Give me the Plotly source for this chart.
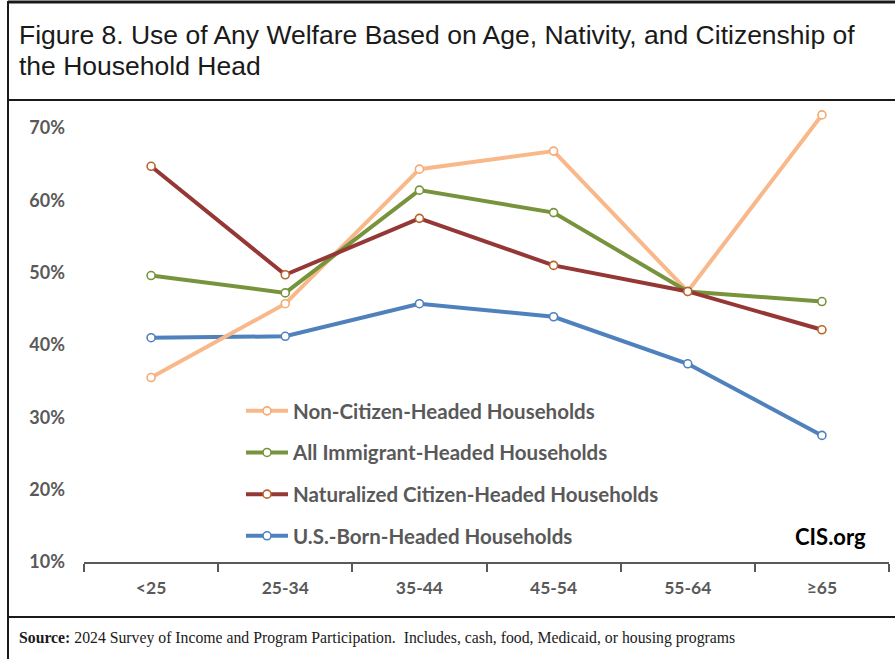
import plotly.graph_objects as go

# Age of household head
age_groups = ["<25", "25-34", "35-44", "45-54", "55-64", "≥65"]

# Share of households using any welfare (%)
non_citizen = [35.5, 45.7, 64.3, 66.8, 47.4, 71.8]
all_immigrant = [49.6, 47.2, 61.4, 58.3, 47.4, 46.0]
naturalized = [64.7, 49.7, 57.5, 51.0, 47.4, 42.1]
us_born = [41.0, 41.2, 45.7, 43.9, 37.4, 27.5]

y_ticks = [10, 20, 30, 40, 50, 60, 70]

title_lines = [
    "Figure 8. Use of Any Welfare Based on Age, Nativity, and Citizenship of",
    "the Household Head",
]

W, H = 895, 659
# plot area in pixels
L, R, T, B = 84, 889, 99, 562

def px(x):
    return (x - L) / (R - L)

def py(y):
    return (B - y) / (B - T)

GRAY = "#595959"
FONT = "Lato, Carlito, Calibri, sans-serif"

series = [
    # name, values, line colour, marker edge, legend rank
    ("U.S.-Born-Headed Households", us_born, "#4F81BD", "#4F81BD", 4),
    ("Non-Citizen-Headed Households", non_citizen, "#F9B88A", "#F7A96F", 1),
    ("All Immigrant-Headed Households", all_immigrant, "#77933C", "#77933C", 2),
    ("Naturalized Citizen-Headed Households", naturalized, "#953735", "#B8642A", 3),
]

fig = go.Figure()
for name, vals, col, edge, rank in series:
    fig.add_trace(go.Scatter(
        x=age_groups, y=vals, name=name, mode="lines+markers",
        line=dict(color=col, width=4),
        marker=dict(size=8, color="white", line=dict(color=edge, width=1.6)),
        legendrank=rank, legendgroup=name,
    ))

fig.update_layout(
    width=W, height=H,
    margin=dict(l=L, r=W - R, t=T, b=H - B, pad=0),
    paper_bgcolor="white", plot_bgcolor="white",
    font=dict(family=FONT, color=GRAY),
    showlegend=True,
    legend=dict(
        x=px(241), y=py(391), xanchor="left", yanchor="top",
        bgcolor="rgba(0,0,0,0)",
        font=dict(family=FONT, size=20.5, color=GRAY, weight="bold"),
        itemwidth=42, tracegroupgap=12, traceorder="grouped",
    ),
)

fig.update_xaxes(
    type="category", range=[-0.5, 5.5],
    showline=True, linecolor=GRAY, linewidth=1.5,
    ticks="outside", tickson="boundaries", ticklen=8, tickcolor=GRAY, tickwidth=1.5,
    showgrid=False, zeroline=False,
    tickfont=dict(family=FONT, size=17.5, color=GRAY, weight="bold"),
    ticklabelstandoff=9,
)
fig.update_yaxes(
    range=[10, 74], tickvals=y_ticks, ticktext=[f"{v}%" for v in y_ticks],
    showline=False, showgrid=False, zeroline=False, ticks="",
    tickfont=dict(family=FONT, size=18, color=GRAY, weight="bold"),
    ticklabelstandoff=18,
)

# frame and rules
def rule(x0, y0, x1, y1, w):
    fig.add_shape(type="line", xref="paper", yref="paper",
                  x0=px(x0), x1=px(x1), y0=py(y0), y1=py(y1),
                  line=dict(color="#1a1a1a", width=w))

rule(8, 2, W, 2, 3)
rule(8, 1, 8, H, 2)
rule(8, 100, W, 100, 2)
rule(8, 617, W, 617, 2)

for line_text, yc in zip(title_lines, [35, 66]):
    fig.add_annotation(
        text=line_text, xref="paper", yref="paper", x=px(17), y=py(yc),
        xanchor="left", yanchor="middle", showarrow=False,
        font=dict(family="Liberation Sans Narrow, Arial Narrow, Liberation Sans, sans-serif",
                  size=26.5, color="#1a1a1a"),
    )
fig.add_annotation(
    text="CIS.org", xref="paper", yref="paper", x=px(868), y=py(536),
    xanchor="right", yanchor="middle", showarrow=False,
    font=dict(family=FONT, size=22, color="#000000", weight="bold"),
)
fig.add_annotation(
    text="<b>Source:</b> 2024 Survey of Income and Program Participation.  Includes, cash, food, Medicaid, or housing programs",
    xref="paper", yref="paper", x=px(17), y=py(638),
    xanchor="left", yanchor="middle", showarrow=False,
    font=dict(family="Liberation Serif, Times New Roman, serif", size=15.75, color="#1a1a1a"),
)

fig.write_html("out.html")
